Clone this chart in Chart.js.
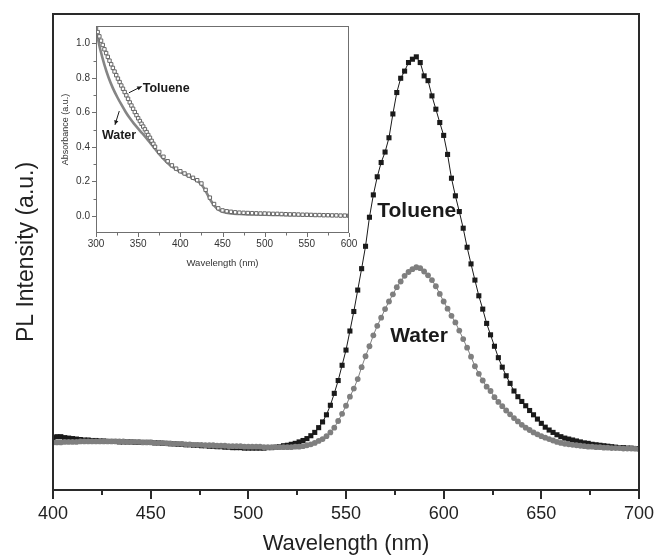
<!DOCTYPE html>
<html><head><meta charset="utf-8">
<script src="https://cdn.jsdelivr.net/npm/chart.js@4.4.0/dist/chart.umd.min.js"></script>
<style>
html,body{margin:0;padding:0;background:#fff;}
#wrap{position:relative;width:655px;height:556px;overflow:hidden;}
#main{position:absolute;left:0;top:0;}
#inset{position:absolute;left:55px;top:14px;}
</style></head><body>
<div id="wrap">
<canvas id="main" width="655" height="556"></canvas>
<canvas id="inset" width="310" height="272"></canvas>
</div>
<script>
// ---------- main PL spectra ----------
const plWavelength = [
400,402,404,406,408,410,412,414,416,418,
420,422,424,426,428,430,432,434,436,438,
440,442,444,446,448,450,452,454,456,458,
460,462,464,466,468,470,472,474,476,478,
480,482,484,486,488,490,492,494,496,498,
500,502,504,506,508,510,512,514,516,518,
520,522,524,526,528,530,532,534,536,538,
540,542,544,546,548,550,552,554,556,558,
560,562,564,566,568,570,572,574,576,578,
580,582,584,586,588,590,592,594,596,598,
600,602,604,606,608,610,612,614,616,618,
620,622,624,626,628,630,632,634,636,638,
640,642,644,646,648,650,652,654,656,658,
660,662,664,666,668,670,672,674,676,678,
680,682,684,686,688,690,692,694,696,698,
700];
const plToluene = [
0.110,0.112,0.112,0.110,0.109,0.108,0.107,0.106,0.105,0.105,
0.104,0.104,0.103,0.103,0.102,0.102,0.102,0.101,0.101,0.101,
0.101,0.100,0.100,0.100,0.100,0.100,0.099,0.099,0.098,0.098,
0.097,0.097,0.096,0.096,0.095,0.095,0.094,0.094,0.093,0.093,
0.092,0.092,0.091,0.091,0.090,0.090,0.089,0.089,0.089,0.088,
0.088,0.088,0.088,0.088,0.088,0.089,0.089,0.090,0.091,0.093,
0.094,0.096,0.098,0.101,0.104,0.108,0.114,0.121,0.131,0.143,
0.158,0.178,0.203,0.230,0.262,0.294,0.334,0.375,0.420,0.465,
0.512,0.573,0.620,0.658,0.688,0.710,0.740,0.790,0.835,0.865,
0.880,0.898,0.905,0.910,0.898,0.870,0.860,0.828,0.800,0.772,
0.745,0.705,0.655,0.618,0.585,0.550,0.510,0.475,0.441,0.408,
0.380,0.350,0.326,0.302,0.278,0.258,0.240,0.224,0.208,0.196,
0.186,0.177,0.167,0.158,0.149,0.140,0.132,0.126,0.121,0.116,
0.112,0.109,0.107,0.105,0.103,0.101,0.099,0.098,0.096,0.095,
0.094,0.093,0.092,0.091,0.090,0.089,0.089,0.088,0.088,0.087,
0.087];
const plWater = [
0.100,0.100,0.100,0.101,0.101,0.101,0.101,0.102,0.102,0.102,
0.102,0.102,0.102,0.102,0.102,0.102,0.102,0.102,0.102,0.101,
0.101,0.101,0.101,0.100,0.100,0.100,0.099,0.099,0.099,0.098,
0.098,0.097,0.097,0.097,0.096,0.096,0.095,0.095,0.095,0.094,
0.094,0.094,0.093,0.093,0.093,0.092,0.092,0.092,0.092,0.091,
0.091,0.091,0.091,0.091,0.090,0.090,0.090,0.090,0.090,0.090,
0.090,0.090,0.091,0.091,0.092,0.094,0.096,0.099,0.103,0.107,
0.113,0.121,0.131,0.145,0.160,0.177,0.196,0.213,0.233,0.258,
0.281,0.302,0.325,0.345,0.362,0.380,0.396,0.411,0.426,0.438,
0.450,0.458,0.464,0.468,0.466,0.459,0.451,0.441,0.428,0.412,
0.396,0.381,0.366,0.352,0.335,0.317,0.299,0.280,0.260,0.244,
0.230,0.217,0.208,0.195,0.185,0.176,0.167,0.159,0.151,0.144,
0.137,0.131,0.126,0.121,0.117,0.113,0.110,0.107,0.104,0.101,
0.099,0.097,0.096,0.095,0.094,0.093,0.092,0.091,0.091,0.090,
0.090,0.089,0.089,0.088,0.088,0.088,0.087,0.087,0.087,0.087,
0.086];
const mainXTicks = [400,450,500,550,600,650,700];
const mainXMinorTicks = [425,475,525,575,625,675];

// ---------- inset absorbance spectra ----------
const absTolueneWavelength = [
300,302,304,306,308,310,312,314,316,318,320,322,324,326,328,330,332,334,
336,338,340,342,344,346,348,350,352,354,356,358,360,362,364,366,368,370,
375,380,385,390,395,400,405,410,415,420,425,430,435,440,445,450,455,460,
465,470,475,480,485,490,495,500,505,510,515,520,525,530,535,540,545,550,
555,560,565,570,575,580,585,590,595,600];
const absToluene = [
1.09,1.065,1.04,1.015,0.99,0.965,0.943,0.921,0.899,0.878,0.857,0.836,0.815,0.795,0.775,0.755,0.736,0.717,
0.698,0.678,0.657,0.639,0.620,0.601,0.583,0.565,0.549,0.533,0.517,0.501,0.485,0.468,0.452,0.434,0.417,0.400,
0.370,0.342,0.316,0.292,0.273,0.258,0.245,0.233,0.220,0.206,0.187,0.150,0.105,0.068,0.043,0.031,0.026,0.023,
0.020,0.018,0.017,0.016,0.015,0.014,0.013,0.013,0.012,0.011,0.011,0.010,0.009,0.008,0.008,0.007,0.006,0.006,
0.005,0.004,0.004,0.003,0.003,0.002,0.002,0.001,0.001,0.000];
const absWaterWavelength = [
300,305,310,315,320,325,330,335,340,345,350,355,360,365,370,375,380,385,390,395,
400,405,410,415,420,425,430,435,440,445,450,460,470,480,490,500,520,540,560,580,600];
const absWater = [
1.08,0.965,0.875,0.80,0.74,0.69,0.645,0.603,0.566,0.534,0.505,0.477,0.448,0.418,0.388,0.357,0.330,0.305,0.285,0.268,
0.254,0.241,0.229,0.216,0.202,0.181,0.143,0.097,0.060,0.036,0.023,0.013,0.010,0.008,0.007,0.006,0.004,0.003,0.002,0.001,0.000];
const insetXTicks = [300,350,400,450,500,550,600];
const insetXMinorTicks = [325,375,425,475,525,575];
const insetYTicks = [0,0.2,0.4,0.6,0.8,1.0];
const insetYMinorTicks = [0.1,0.3,0.5,0.7,0.9];

const FONT = '"Liberation Sans", Arial, Helvetica, sans-serif';
Chart.defaults.font.family = FONT;
Chart.defaults.color = '#222';

function pts(xs, ys){ return xs.map((x,i)=>({x:x, y:ys[i]})); }

const mainDeco = {
  id:'mainDeco',
  afterDraw(chart){
    const {ctx, chartArea:a, scales:{x,y}} = chart;
    ctx.save();
    ctx.strokeStyle='#2a2a2a'; ctx.lineWidth=2;
    ctx.strokeRect(a.left, a.top, a.right-a.left, a.bottom-a.top);
    ctx.beginPath();
    mainXTicks.forEach(v=>{const p=Math.round(x.getPixelForValue(v)); ctx.moveTo(p,a.bottom); ctx.lineTo(p,a.bottom+9);});
    mainXMinorTicks.forEach(v=>{const p=Math.round(x.getPixelForValue(v)); ctx.moveTo(p,a.bottom); ctx.lineTo(p,a.bottom+5);});
    ctx.stroke();
    ctx.fillStyle='#1a1a1a';
    ctx.font='bold 21px '+FONT;
    ctx.textBaseline='alphabetic';
    ctx.textAlign='left';
    ctx.fillText('Toluene', x.getPixelForValue(566), y.getPixelForValue(0.574));
    ctx.textAlign='center';
    ctx.fillText('Water', x.getPixelForValue(587.4), y.getPixelForValue(0.311));
    ctx.restore();
  }
};

new Chart(document.getElementById('main'), {
  type:'line',
  data:{datasets:[
    {label:'Toluene', data:pts(plWavelength, plToluene), borderColor:'#1a1a1a', borderWidth:1,
     pointStyle:'rect', pointRadius:3.6, pointBackgroundColor:'#1a1a1a', pointBorderWidth:0, order:1, tension:0},
    {label:'Water', data:pts(plWavelength, plWater), borderColor:'#7f7f7f', borderWidth:1,
     pointStyle:'circle', pointRadius:2.9, pointBackgroundColor:'#7f7f7f', pointBorderWidth:0, order:0, tension:0}
  ]},
  options:{
    responsive:false, animation:false, events:[],
    layout:{padding:{left:0,right:16,top:14,bottom:0}},
    plugins:{legend:{display:false}, tooltip:{enabled:false}},
    scales:{
      x:{type:'linear', min:400, max:700,
         afterBuildTicks:s=>{s.ticks = mainXTicks.map(v=>({value:v}));},
         afterFit:s=>{s.height=66; s.paddingLeft=0; s.paddingRight=0;},
         grid:{display:false, drawTicks:false}, border:{display:false},
         ticks:{padding:13, font:{size:18}, color:'#222', maxRotation:0, autoSkip:false},
         title:{display:true, text:'Wavelength (nm)', font:{size:22, lineHeight:1.1}, color:'#222', padding:{top:0,bottom:0}}},
      y:{type:'linear', min:0, max:1,
         afterFit:s=>{s.width=53;},
         grid:{display:false, drawTicks:false}, border:{display:false},
         ticks:{display:false},
         title:{display:true, text:'PL Intensity (a.u.)', font:{size:23, lineHeight:1.2}, color:'#222', padding:{top:13,bottom:0}}}
    }
  },
  plugins:[mainDeco]
});

function arrow(ctx, x1,y1,x2,y2){
  const ang=Math.atan2(y2-y1,x2-x1), h=5;
  ctx.beginPath(); ctx.moveTo(x1,y1); ctx.lineTo(x2,y2); ctx.stroke();
  ctx.beginPath();
  ctx.moveTo(x2,y2);
  ctx.lineTo(x2-h*Math.cos(ang-0.45), y2-h*Math.sin(ang-0.45));
  ctx.lineTo(x2-h*Math.cos(ang+0.45), y2-h*Math.sin(ang+0.45));
  ctx.closePath(); ctx.fill();
}

const insetDeco = {
  id:'insetDeco',
  afterDraw(chart){
    const {ctx, chartArea:a, scales:{x,y}} = chart;
    ctx.save();
    ctx.strokeStyle='#6f6f6f'; ctx.lineWidth=1;
    ctx.strokeRect(a.left+0.5, a.top+0.5, a.right-a.left-1, a.bottom-a.top-1);
    ctx.beginPath();
    insetXTicks.forEach(v=>{const p=Math.round(x.getPixelForValue(v))+0.5; ctx.moveTo(p,a.bottom); ctx.lineTo(p,a.bottom+4);});
    insetXMinorTicks.forEach(v=>{const p=Math.round(x.getPixelForValue(v))+0.5; ctx.moveTo(p,a.bottom); ctx.lineTo(p,a.bottom+2.5);});
    insetYTicks.forEach(v=>{const p=Math.round(y.getPixelForValue(v))+0.5; ctx.moveTo(a.left,p); ctx.lineTo(a.left-4,p);});
    insetYMinorTicks.forEach(v=>{const p=Math.round(y.getPixelForValue(v))+0.5; ctx.moveTo(a.left,p); ctx.lineTo(a.left-2.5,p);});
    ctx.stroke();
    ctx.fillStyle='#1a1a1a'; ctx.strokeStyle='#1a1a1a';
    ctx.font='bold 12.5px '+FONT;
    ctx.textAlign='left'; ctx.textBaseline='alphabetic';
    ctx.fillText('Toluene', x.getPixelForValue(355.4), y.getPixelForValue(0.719));
    ctx.fillText('Water', x.getPixelForValue(307), y.getPixelForValue(0.447));
    ctx.lineWidth=1;
    arrow(ctx, x.getPixelForValue(339.1), y.getPixelForValue(0.713), x.getPixelForValue(354.2), y.getPixelForValue(0.750));
    arrow(ctx, x.getPixelForValue(327.6), y.getPixelForValue(0.607), x.getPixelForValue(322.5), y.getPixelForValue(0.527));
    ctx.restore();
  }
};

new Chart(document.getElementById('inset'), {
  type:'line',
  data:{datasets:[
    {label:'Water', data:pts(absWaterWavelength, absWater), borderColor:'#858585', borderWidth:2.6,
     pointRadius:0, tension:0.3, order:1},
    {label:'Toluene', data:pts(absTolueneWavelength, absToluene), showLine:false,
     pointStyle:'rect', pointRadius:2.4, pointBackgroundColor:'#ffffff', pointBorderColor:'#666', pointBorderWidth:1, order:0}
  ]},
  options:{
    responsive:false, animation:false, events:[],
    layout:{padding:{left:0,right:16,top:4,bottom:0}},
    plugins:{legend:{display:false}, tooltip:{enabled:false}},
    scales:{
      x:{type:'linear', min:300, max:600,
         afterBuildTicks:s=>{s.ticks = insetXTicks.map(v=>({value:v}));},
         afterFit:s=>{s.height=53; s.paddingLeft=0; s.paddingRight=0;},
         grid:{display:false, drawTicks:false}, border:{display:false},
         ticks:{padding:5, font:{size:10}, color:'#333', maxRotation:0, autoSkip:false},
         title:{display:true, text:'Wavelength (nm)', font:{size:9.5, lineHeight:1.2}, color:'#333', padding:{top:0,bottom:17}}},
      y:{type:'linear', min:-0.1, max:1.1,
         afterBuildTicks:s=>{s.ticks = insetYTicks.map(v=>({value:v}));},
         afterFit:s=>{s.width=41;},
         grid:{display:false, drawTicks:false}, border:{display:false},
         ticks:{padding:6, font:{size:10}, color:'#333', callback:v=>Number(v).toFixed(1)},
         title:{display:true, text:'Absorbance (a.u.)', font:{size:9, lineHeight:1.2}, color:'#333', padding:{top:5,bottom:0}}}
    }
  },
  plugins:[insetDeco]
});
</script>
</body></html>
